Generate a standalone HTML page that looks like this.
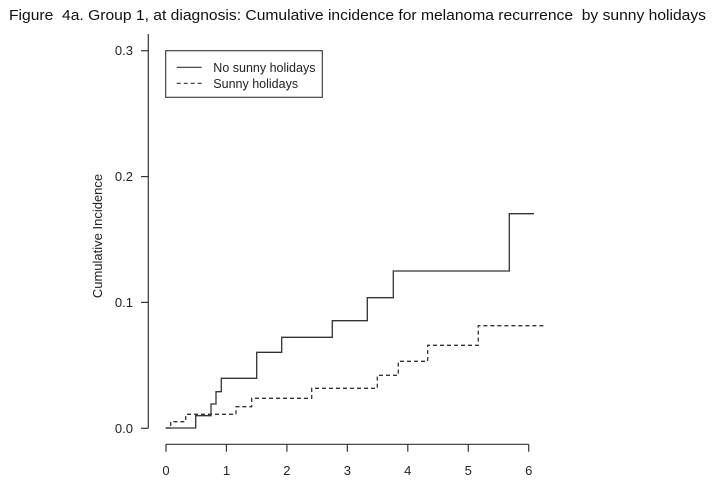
<!DOCTYPE html>
<html><head><meta charset="utf-8"><style>
html,body{margin:0;padding:0;background:#fff;}
svg{display:block;font-family:"Liberation Sans",Arial,sans-serif;}
</style></head><body>
<svg width="725" height="483" viewBox="0 0 725 483" xmlns="http://www.w3.org/2000/svg">
<rect width="725" height="483" fill="#fff"/>
<text x="9" y="20" font-size="14.5" fill="#111" textLength="697" lengthAdjust="spacingAndGlyphs" xml:space="preserve">Figure  4a. Group 1, at diagnosis: Cumulative incidence for melanoma recurrence  by sunny holidays</text>

<g stroke="#333" stroke-width="1.2" fill="none">
<line x1="148.3" y1="34" x2="148.3" y2="428.3"/>
<line x1="141" y1="50.7" x2="148.3" y2="50.7"/>
<line x1="141" y1="176.6" x2="148.3" y2="176.6"/>
<line x1="141" y1="302.4" x2="148.3" y2="302.4"/>
<line x1="141" y1="428.3" x2="148.3" y2="428.3"/>

<line x1="166" y1="444.3" x2="528.7" y2="444.3"/>
<line x1="166" y1="444.3" x2="166" y2="451.7"/>
<line x1="226.45" y1="444.3" x2="226.45" y2="451.7"/>
<line x1="286.9" y1="444.3" x2="286.9" y2="451.7"/>
<line x1="347.35" y1="444.3" x2="347.35" y2="451.7"/>
<line x1="407.8" y1="444.3" x2="407.8" y2="451.7"/>
<line x1="468.25" y1="444.3" x2="468.25" y2="451.7"/>
<line x1="528.7" y1="444.3" x2="528.7" y2="451.7"/>
</g>

<g font-size="13" fill="#222" text-anchor="end">
<text x="133" y="55.2">0.3</text>
<text x="133" y="181.1">0.2</text>
<text x="133" y="306.9">0.1</text>
<text x="133" y="432.8">0.0</text>
</g>
<g font-size="13" fill="#222" text-anchor="middle">
<text x="166" y="475">0</text>
<text x="226.45" y="475">1</text>
<text x="286.9" y="475">2</text>
<text x="347.35" y="475">3</text>
<text x="407.8" y="475">4</text>
<text x="468.25" y="475">5</text>
<text x="528.7" y="475">6</text>
</g>
<text transform="translate(102,236) rotate(-90)" font-size="13" fill="#222" text-anchor="middle">Cumulative Incidence</text>

<rect x="165.7" y="50.7" width="156.6" height="46.6" fill="none" stroke="#333" stroke-width="1.1"/>
<line x1="176.7" y1="67.3" x2="201.7" y2="67.3" stroke="#333" stroke-width="1.2"/>
<line x1="176.7" y1="83.3" x2="201.7" y2="83.3" stroke="#333" stroke-width="1.2" stroke-dasharray="4,3"/>
<text x="213.3" y="71.8" font-size="12.5" fill="#222">No sunny holidays</text>
<text x="213.3" y="87.8" font-size="12.5" fill="#222">Sunny holidays</text>

<path d="M165.7,428 H195.7 V415.7 H211 V404 H216 V391.7 H221.3 V378.3 H256.7 V352.3 H281.7 V337.3 H332.3 V320.7 H367.3 V297.7 H393.3 V271 H509.3 V213.7 H534" fill="none" stroke="#333" stroke-width="1.3"/>
<path d="M165.7,428 H170.7 V421.7 H185.7 V414.3 H236 V406.7 H251.7 V398.3 H311.7 V388.3 H377.3 V375.3 H398.3 V361.3 H427.7 V345.3 H478.3 V325.7 H543.3" fill="none" stroke="#333" stroke-width="1.3" stroke-dasharray="4,3"/>
</svg>
</body></html>
